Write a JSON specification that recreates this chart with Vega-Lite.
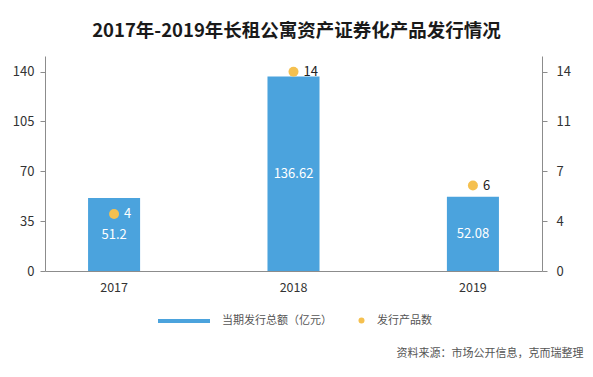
{
  "$schema": "https://vega.github.io/schema/vega-lite/v6.json",
  "autosize": "none",
  "width": 497,
  "height": 215,
  "padding": {"left": 45, "top": 56, "right": 51, "bottom": 106},
  "background": "white",
  "config": {
    "view": {"stroke": null},
    "font": "Noto Sans CJK SC",
    "axis": {"labelFont": "Noto Sans CJK SC", "titleFont": "Noto Sans CJK SC", "grid": false, "domainColor": "#8c8c8c", "tickColor": "#8c8c8c", "labelColor": "#333333", "labelFontSize": 12.5},
    "legend": {"labelFont": "Noto Sans CJK SC", "labelFontSize": 11, "labelColor": "#555555", "padding": 0}
  },
  "title": {
    "text": "2017年-2019年长租公寓资产证券化产品发行情况",
    "font": "Noto Sans CJK SC",
    "fontSize": 18.5,
    "fontWeight": "bold",
    "color": "#1a1a1a",
    "anchor": "middle",
    "frame": "group",
    "dx": 3,
    "offset": 16
  },
  "data": {
    "values": [
      {"year": "2017", "amount": 51.2, "count": 4},
      {"year": "2018", "amount": 136.62, "count": 14},
      {"year": "2019", "amount": 52.08, "count": 6}
    ]
  },
  "encoding": {
    "x": {
      "field": "year",
      "type": "nominal",
      "scale": {"type": "band", "paddingInner": 0.71, "paddingOuter": 0.24},
      "axis": {
        "labelAngle": 0,
        "ticks": false,
        "labelPadding": 10,
        "title": "资料来源：市场公开信息，克而瑞整理",
        "titleFontSize": 11,
        "titleFontWeight": "normal",
        "titleColor": "#555555",
        "titleAnchor": "end",
        "titleAlign": "right",
        "titleBaseline": "middle",
        "titleX": 538,
        "titleY": 82
      }
    }
  },
  "layer": [
    {
      "mark": {"type": "bar", "color": "#4BA3DD"},
      "encoding": {
        "y": {
          "field": "amount",
          "type": "quantitative",
          "scale": {"domain": [0, 151], "nice": false},
          "axis": {"values": [0, 35, 70, 105, 140], "title": null, "tickSize": 5, "labelPadding": 6, "labelFontSize": 13}
        },
        "color": {
          "datum": "当期发行总额（亿元）",
          "scale": {"range": ["#4BA3DD"]},
          "legend": {
            "title": null,
            "orient": "none",
            "legendX": 113,
            "legendY": 239,
            "symbolType": "M-1,-0.08H1V0.08H-1Z",
            "symbolSize": 2704,
            "symbolStrokeWidth": 0,
            "labelOffset": 12
          }
        }
      }
    },
    {
      "mark": {"type": "text", "color": "white", "fontSize": 13, "baseline": "middle", "align": "center"},
      "encoding": {
        "y": {
          "field": "amount",
          "type": "quantitative",
          "scale": {"domain": [0, 302], "nice": false},
          "axis": null
        },
        "text": {"field": "amount", "type": "quantitative"}
      }
    },
    {
      "encoding": {
        "y": {
          "field": "count",
          "type": "quantitative",
          "scale": {"domain": [0, 15.1], "nice": false},
          "axis": {"orient": "right", "values": [0, 3.5, 7, 10.5, 14], "format": ".0f", "title": null, "tickSize": 5, "labelPadding": 9, "labelFontSize": 13}
        }
      },
      "layer": [
        {
          "mark": {"type": "point", "filled": true, "size": 100, "opacity": 1},
          "encoding": {
            "color": {
              "datum": "发行产品数",
              "scale": {"range": ["#F5C04F"]},
              "legend": {
                "title": null,
                "orient": "none",
                "legendX": 311,
                "legendY": 259,
                "symbolType": "circle",
                "symbolSize": 36,
                "symbolStrokeWidth": 0,
                "labelOffset": 10
              }
            }
          }
        },
        {
          "mark": {"type": "text", "align": "left", "baseline": "middle", "dx": 10, "fontSize": 13},
          "encoding": {
            "text": {"field": "count", "type": "quantitative"},
            "color": {
              "condition": {"test": "datum.count * 10 < datum.amount", "value": "white"},
              "value": "#222222"
            }
          }
        }
      ]
    }
  ],
  "resolve": {"scale": {"y": "independent", "color": "independent"}, "legend": {"color": "independent"}}
}
